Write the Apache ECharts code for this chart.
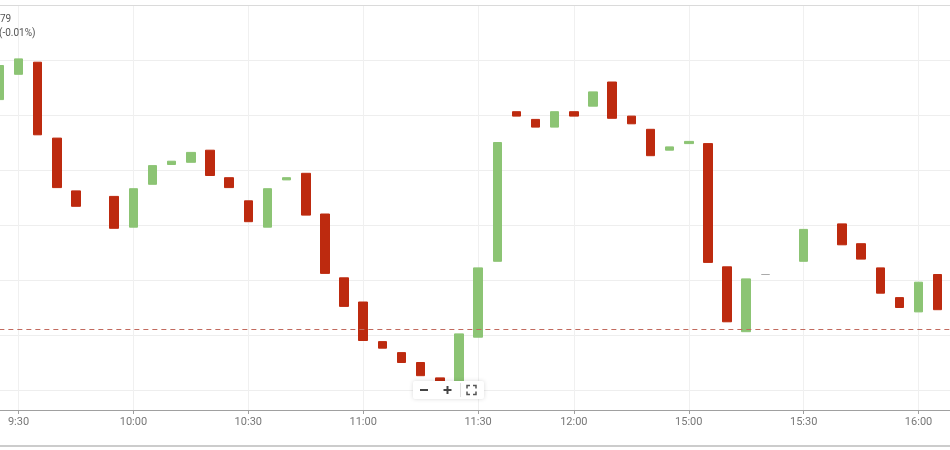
<!DOCTYPE html>
<html>
<head>
<meta charset="utf-8">
<style>
html, body { margin: 0; padding: 0; background: #fff; }
#chart { width: 950px; height: 450px; }
</style>
<script src="https://cdn.jsdelivr.net/npm/echarts@6/dist/echarts.min.js"></script>
</head>
<body>
<div id="chart"></div>
<script>
// 5 min bars, times shown on the category axis
var times = ['9:25',
  '9:30', '9:35', '9:40', '9:45', '9:50', '9:55', '10:00', '10:05', '10:10', '10:15',
  '10:20', '10:25', '10:30', '10:35', '10:40', '10:45', '10:50', '10:55', '11:00', '11:05',
  '11:10', '11:15', '11:20', '11:25', '11:30', '11:35', '11:40', '11:45', '11:50', '12:00',
  '14:35', '14:40', '14:45', '14:50', '14:55', '15:00', '15:05', '15:10', '15:15', '15:20',
  '15:25', '15:30', '15:35', '15:40', '15:45', '15:50', '15:55', '16:00', '16:05', '16:10'];
var tickLabels = ['9:30', '10:00', '10:30', '11:00', '11:30', '12:00', '15:00', '15:30', '16:00'];

var opens = [23.964, 23.987, 23.998, 23.929, 23.881, null, 23.876, 23.848, 23.887, 23.905,
  23.907, 23.918, 23.893, 23.872, 23.848, 23.891, 23.897, 23.860, 23.802, 23.780,
  23.744, 23.734, 23.725, 23.711, 23.708, 23.748, 23.817, 23.953, 23.946, 23.939,
  23.953, 23.958, 23.980, 23.949, 23.937, 23.918, 23.924, 23.924, 23.812, 23.753,
  23.805, null, 23.817, null, 23.851, 23.833, 23.811, 23.784, 23.771, 23.805];
var closes = [23.995, 24.001, 23.932, 23.884, 23.867, null, 23.847, 23.883, 23.904, 23.908,
  23.916, 23.895, 23.884, 23.853, 23.883, 23.893, 23.859, 23.806, 23.776, 23.745,
  23.738, 23.725, 23.713, 23.708, 23.751, 23.811, 23.925, 23.949, 23.939, 23.953,
  23.949, 23.971, 23.947, 23.942, 23.913, 23.921, 23.926, 23.816, 23.762, 23.801,
  23.805, null, 23.846, null, 23.832, 23.819, 23.788, 23.775, 23.798, 23.773];
var prevClose = 23.755;

var candles = [];
for (let i = 0; i < opens.length; i++) {
  if (opens[i] == null) { candles.push('-'); continue; }
  let o = opens[i], c = closes[i];
  candles.push([o, c, Math.min(o, c), Math.max(o, c)]);
}

var showTick = function (idx, name) { return tickLabels.indexOf(name) >= 0; };
var upColor = '#8cc474';
var downColor = '#bd2a0f';
var prevCloseColor = '#c26a5e';

var chartDom = document.getElementById('chart');
var myChart = echarts.init(chartDom, null, { renderer: 'canvas' });
var option = {
  animation: false,
  backgroundColor: '#fff',
  textStyle: { fontFamily: 'Roboto' },
  grid: [
    { left: -0.65, top: 5, width: 957.5, height: 385, containLabel: false, outerBoundsMode: 'none' },
    { left: -0.65, top: 390, width: 957.5, height: 20, containLabel: false, outerBoundsMode: 'none' }
  ],
  xAxis: [
    {
      gridIndex: 0,
      type: 'category',
      position: 'top',
      boundaryGap: false,
      data: times,
      axisLine: { show: true, lineStyle: { color: '#dadada', width: 1 } },
      axisTick: { show: false },
      axisLabel: { show: false },
      splitLine: { show: true, interval: showTick, lineStyle: { color: '#f0f0f0' } }
    },
    {
      gridIndex: 1,
      type: 'category',
      boundaryGap: false,
      data: times,
      axisLine: { show: true, lineStyle: { color: '#a0a0a0', width: 1 } },
      axisTick: { show: true, interval: showTick, length: 4, lineStyle: { color: '#a0a0a0' } },
      axisLabel: { interval: showTick, margin: 7, fontSize: 11, color: '#777' },
      splitLine: { show: true, interval: showTick, lineStyle: { color: '#f0f0f0' } }
    }
  ],
  yAxis: [
    {
      gridIndex: 0,
      type: 'value',
      min: 23.70,
      max: 24.05,
      interval: 0.05,
      axisLine: { show: false },
      axisTick: { show: false },
      axisLabel: { show: false },
      splitLine: { show: true, lineStyle: { color: '#eeeeee' } }
    },
    { gridIndex: 1, type: 'value', show: false, splitLine: { show: false } }
  ],
  series: [
    {
      type: 'candlestick',
      xAxisIndex: 0,
      yAxisIndex: 0,
      barWidth: 9,
      itemStyle: {
        color: upColor,
        color0: downColor,
        borderColor: upColor,
        borderColor0: downColor,
        borderColorDoji: '#aaaaaa',
        borderWidth: 1
      },
      // previous close reference line
      markLine: {
        silent: true,
        symbol: 'none',
        precision: 4,
        label: { show: false },
        lineStyle: { type: [5, 4], color: prevCloseColor, width: 1, opacity: 1 },
        data: [{ yAxis: prevClose }]
      },
      data: candles
    }
  ],
  graphic: [
    { type: 'text', x: 0, y: 14, z: 100, style: { text: '79', fontSize: 10, fill: '#555', fontFamily: 'Roboto' } },
    { type: 'text', x: -1, y: 28, z: 100, style: { text: '(-0.01%)', fontSize: 10, fill: '#555', fontFamily: 'Roboto' } },
    { type: 'line', z: 100, shape: { x1: 0, y1: 446, x2: 950, y2: 446 }, style: { stroke: '#cccccc', lineWidth: 2 } },
    // zoom buttons
    { type: 'rect', z: 100, shape: { x: 413, y: 381, width: 71, height: 18, r: 2 },
      style: { fill: '#fff', shadowBlur: 4, shadowColor: 'rgba(0,0,0,0.15)' } },
    { type: 'line', z: 101, shape: { x1: 420, y1: 390, x2: 428, y2: 390 }, style: { stroke: '#444', lineWidth: 2 } },
    { type: 'line', z: 101, shape: { x1: 443.5, y1: 390, x2: 451.5, y2: 390 }, style: { stroke: '#444', lineWidth: 2 } },
    { type: 'line', z: 101, shape: { x1: 447.5, y1: 386, x2: 447.5, y2: 394 }, style: { stroke: '#444', lineWidth: 2 } },
    { type: 'line', z: 101, shape: { x1: 460.5, y1: 383, x2: 460.5, y2: 397 }, style: { stroke: '#e0e0e0', lineWidth: 1 } },
    { type: 'polyline', z: 101, shape: { points: [[467, 388.5], [467, 385.5], [470, 385.5]] }, style: { stroke: '#555', lineWidth: 1.5, fill: null } },
    { type: 'polyline', z: 101, shape: { points: [[473, 385.5], [476, 385.5], [476, 388.5]] }, style: { stroke: '#555', lineWidth: 1.5, fill: null } },
    { type: 'polyline', z: 101, shape: { points: [[467, 391.5], [467, 394.5], [470, 394.5]] }, style: { stroke: '#555', lineWidth: 1.5, fill: null } },
    { type: 'polyline', z: 101, shape: { points: [[473, 394.5], [476, 394.5], [476, 391.5]] }, style: { stroke: '#555', lineWidth: 1.5, fill: null } }
  ]
};
option && myChart.setOption(option);
window.addEventListener('resize', myChart.resize);
</script>
</body>
</html>
